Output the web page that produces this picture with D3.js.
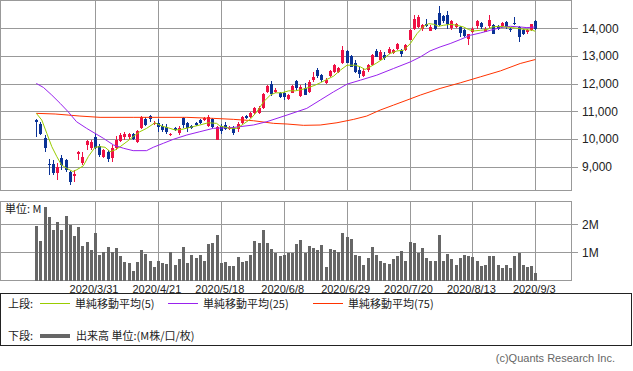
<!DOCTYPE html>
<html>
<head>
<meta charset="utf-8">
<script src="https://cdn.jsdelivr.net/npm/d3@7"></script>
<style>
    body { margin: 0; background: #fff; }
    svg { display: block; font-family: "Liberation Sans", "Noto Sans CJK JP", sans-serif; }
    .jp { font-family: "Noto Sans CJK JP", sans-serif; }
</style>
</head>
<body>
<svg id="chart" width="633" height="371"></svg>
<script>
// trading days 2020/3/10 .. 2020/9/3
var dates = [
    "3/10", "3/11", "3/12", "3/13", "3/16", "3/17", "3/18", "3/19", "3/23", "3/24", "3/25", "3/26", "3/27", "3/30", "3/31",
    "4/1", "4/2", "4/3", "4/6", "4/7", "4/8", "4/9", "4/10", "4/13", "4/14", "4/15", "4/16", "4/17", "4/20", "4/21",
    "4/22", "4/23", "4/24", "4/27", "4/28", "4/30", "5/1", "5/7", "5/8", "5/11", "5/12", "5/13", "5/14", "5/15", "5/18",
    "5/19", "5/20", "5/21", "5/22", "5/25", "5/26", "5/27", "5/28", "5/29", "6/1", "6/2", "6/3", "6/4", "6/5", "6/8",
    "6/9", "6/10", "6/11", "6/12", "6/15", "6/16", "6/17", "6/18", "6/19", "6/22", "6/23", "6/24", "6/25", "6/26", "6/29",
    "6/30", "7/1", "7/2", "7/3", "7/6", "7/7", "7/8", "7/9", "7/10", "7/13", "7/14", "7/15", "7/16", "7/17", "7/20",
    "7/21", "7/22", "7/27", "7/28", "7/29", "7/30", "7/31", "8/3", "8/4", "8/5", "8/6", "8/7", "8/11", "8/12", "8/13",
    "8/14", "8/17", "8/18", "8/19", "8/20", "8/21", "8/24", "8/25", "8/26", "8/27", "8/28", "8/31", "9/1", "9/2", "9/3"
];

var open = [
    10690, 10560, 10030, 9100, 9100, 8770, 9300, 9240, 8800, 8660, 9480, 9130, 9790, 9670, 10090,
    9760, 9370, 9550, 9330, 9680, 9940, 10070, 10060, 10200, 9910, 10390, 10710, 10850, 10550, 10590,
    10470, 10450, 10150, 10390, 10210, 10770, 10570, 10470, 10570, 10690, 10690, 10470, 10710, 9970, 10470,
    10500, 10360, 10410, 10360, 10570, 10830, 10790, 10950, 10950, 11110, 11710, 11980, 11710, 11650, 11650,
    11430, 11670, 12090, 11550, 11830, 11710, 12130, 12490, 12320, 12030, 12270, 12430, 12440, 12730, 13180,
    12990, 12730, 12510, 12270, 12490, 12670, 13180, 12870, 13030, 13110, 13110, 13270, 13210, 13210, 13590,
    13990, 14050, 13990, 14170, 13900, 14290, 14550, 14430, 14470, 14020, 14050, 14050, 13950, 13630, 13870,
    14070, 14190, 13870, 14070, 14110, 14070, 14070, 14230, 13990, 14190, 14050, 13930, 13870, 13950, 14260
];
var high = [
    10720, 10620, 10160, 9290, 9250, 9130, 9420, 9290, 8850, 8880, 9560, 9550, 9970, 9970, 10210,
    9810, 9650, 9610, 9790, 10120, 10220, 10240, 10230, 10230, 10330, 10820, 10780, 10880, 10640, 10710,
    10540, 10540, 10220, 10430, 10470, 10800, 10630, 10520, 10600, 10740, 10800, 10860, 10760, 10470, 10560,
    10610, 10460, 10470, 10620, 10850, 10870, 10980, 11160, 11200, 11650, 11950, 12100, 11830, 11710, 11710,
    11630, 11950, 12130, 11950, 12010, 12130, 12430, 12560, 12360, 12190, 12510, 12700, 12610, 13350, 13210,
    13030, 12850, 12610, 12550, 12700, 13060, 13270, 13210, 13150, 13330, 13270, 13470, 13270, 13450, 13990,
    14470, 14470, 14170, 14350, 14110, 14310, 14790, 14470, 14610, 14310, 14190, 14070, 13990, 13810, 14030,
    14290, 14230, 14030, 14470, 14150, 14110, 14230, 14270, 14050, 14410, 14070, 13990, 13990, 14170, 14290
];
var low = [
    10080, 10150, 9550, 8700, 8710, 8530, 8900, 8810, 8350, 8450, 9250, 9070, 9610, 9610, 9640,
    9370, 9310, 9190, 9170, 9620, 9900, 9950, 9990, 9960, 9850, 10350, 10480, 10600, 10500, 10270,
    10260, 10200, 10120, 10290, 10150, 10400, 10270, 10350, 10480, 10550, 10650, 10420, 10400, 9960, 10200,
    10320, 10330, 10160, 10250, 10540, 10720, 10760, 10920, 10910, 11070, 11670, 11560, 11670, 11470, 11410,
    11410, 11650, 11790, 11510, 11590, 11650, 12070, 12220, 12070, 11980, 12230, 12390, 12390, 12700, 12730,
    12590, 12390, 12190, 12250, 12430, 12630, 12950, 12850, 12870, 13080, 13080, 13210, 12950, 13180, 13570,
    13950, 14020, 13900, 14050, 13900, 13950, 14070, 14190, 13990, 13950, 14020, 13690, 13670, 13390, 13830,
    13990, 13990, 13850, 14020, 13790, 13950, 14050, 13990, 13870, 14110, 13510, 13750, 13810, 13900, 13950
];
var close = [
    10620, 10200, 9680, 9050, 8770, 9010, 9080, 8880, 8440, 8730, 9520, 9370, 9930, 9910, 9690,
    9430, 9610, 9280, 9670, 9960, 10150, 10180, 10200, 9990, 10290, 10810, 10510, 10720, 10590, 10450,
    10330, 10270, 10190, 10330, 10410, 10510, 10390, 10390, 10510, 10590, 10750, 10790, 10450, 10450, 10300,
    10360, 10410, 10230, 10530, 10780, 10750, 10930, 11110, 11130, 11620, 11910, 11620, 11790, 11510, 11510,
    11590, 11910, 11830, 11870, 11590, 12070, 12250, 12270, 12150, 12140, 12460, 12660, 12560, 13210, 12750,
    12610, 12430, 12340, 12460, 12670, 13030, 12970, 13150, 12910, 13270, 13230, 13420, 13060, 13390, 13930,
    14350, 14390, 14110, 14070, 14050, 13990, 14110, 14260, 14140, 14260, 14140, 13830, 13710, 13780, 13990,
    14260, 14030, 13990, 14310, 13810, 13990, 14190, 14050, 13930, 14140, 13690, 13810, 13930, 14140, 13990
];

// volume, millions
var volume = [
    1.94, 1.39, 2.62, 2.26, 1.79, 2.07, 1.79, 2.29, 1.99, 1.58, 1.90, 1.21, 1.36, 1.07, 1.69,
    0.89, 1.01, 1.19, 1.01, 1.14, 0.86, 0.65, 0.62, 0.33, 0.65, 1.07, 0.93, 0.68, 0.48, 0.68,
    0.62, 0.57, 1.00, 0.54, 0.75, 1.19, 0.62, 0.89, 0.81, 0.89, 0.71, 1.29, 1.33, 1.61, 0.62,
    0.65, 0.50, 0.50, 0.83, 0.65, 0.71, 0.89, 1.39, 1.33, 1.79, 1.33, 1.12, 0.98, 0.87, 0.89,
    0.98, 0.98, 1.29, 1.43, 0.98, 1.21, 1.15, 1.07, 1.25, 0.48, 1.13, 1.10, 1.00, 1.69, 1.55,
    1.46, 0.89, 0.86, 0.54, 0.79, 1.18, 0.89, 0.68, 0.62, 0.60, 0.75, 0.86, 1.04, 0.68, 1.36,
    1.33, 0.99, 1.14, 0.79, 0.69, 0.71, 1.61, 0.71, 0.93, 0.75, 0.54, 0.81, 0.89, 0.86, 0.83,
    0.71, 0.51, 0.54, 0.86, 0.86, 0.54, 0.44, 0.54, 0.44, 0.86, 0.98, 0.54, 0.48, 0.50, 0.26
];

// moving averages: [day index, price]
var ma5 = [
    [0, 10930], [1.3, 10690], [2.5, 10210], [3.7, 9727], [4.9, 9367], [6, 9068], [7.2, 8950], [8.7, 8830],
    [9.6, 8890], [11.2, 9032], [12.4, 9367], [14, 9705], [15.2, 9727], [16.4, 9705], [17.6, 9547], [18.8, 9608],
    [20, 9727], [21.6, 9908], [23.1, 10088], [24.7, 10267], [26.3, 10388], [28.3, 10590], [29.9, 10472],
    [31.9, 10388], [33.1, 10328], [34.7, 10352], [36.7, 10424], [39, 10508], [41, 10590], [43, 10568],
    [43.8, 10472], [46.2, 10388], [47.8, 10388], [49.4, 10544], [51, 10713], [52.6, 10987], [54.2, 11347],
    [55.8, 11588], [57, 11671], [58.6, 11671], [60.2, 11743], [61.8, 11743], [63.4, 11793], [65, 11865],
    [66.5, 11948], [67.7, 12031], [69.3, 12153], [70.9, 12272], [72.5, 12488], [74.1, 12668], [76.1, 12668],
    [77.3, 12607], [78.4, 12513], [79.6, 12607], [81.2, 12751], [82.8, 12909], [84.4, 13089], [86, 13183],
    [87.6, 13208], [89.2, 13449], [90.8, 13809], [92.4, 14072], [93.6, 14168], [94.8, 14144], [95.9, 14072],
    [97.1, 14108], [98.7, 14144], [100.3, 14108], [101.9, 14048], [103.1, 13953], [104.3, 13903], [105.9, 13928],
    [107.5, 13953], [108.7, 14048], [110.3, 14072], [111.9, 14048], [113.5, 14024], [115.1, 13990], [116.7, 13953],
    [118.3, 13928], [119, 13892]
];
var ma25 = [
    [0, 12009], [1.7, 11865], [3.7, 11588], [5.7, 11289], [7.6, 10987], [9.6, 10627], [12, 10388], [14, 10208],
    [16, 10029], [18.4, 9788], [20.8, 9669], [23.1, 9583], [26.3, 9583], [27.9, 9705], [30.3, 9849], [32.7, 9993],
    [35.9, 10148], [39, 10267], [42.2, 10388], [47, 10420], [51.8, 10510], [55, 10630], [59.8, 10868],
    [64.5, 11109], [67.7, 11408], [70.9, 11707], [74.1, 11984], [77.3, 12128], [81.2, 12308], [85.2, 12549],
    [89.2, 12787], [91.6, 12967], [93.9, 13183], [96.3, 13327], [98.7, 13449], [101.1, 13593], [103.5, 13748],
    [105.9, 13831], [108.3, 13928], [110.7, 14024], [113.1, 14072], [115.4, 14048], [117, 14024], [119, 14048]
];
var ma75 = [
    [0, 10930], [4.5, 10906], [7.6, 10868], [10.4, 10832], [15.2, 10785], [23.1, 10785], [35.9, 10785],
    [42.2, 10749], [47, 10713], [51.8, 10663], [56.6, 10568], [59.8, 10544], [63.7, 10497], [67.7, 10508],
    [71.7, 10590], [75.7, 10713], [78.8, 10832], [82, 11048], [85.2, 11228], [88.4, 11408], [91.6, 11590],
    [96.3, 11829], [101.1, 12031], [105.9, 12247], [110.7, 12463], [115.4, 12729], [119, 12873]
];

var priceTicks = [9000, 10000, 11000, 12000, 13000, 14000];
var volumeTicks = [1, 2];
var labelDays = [14, 29, 44, 59, 74, 89, 104, 119];

var COLORS = {
    up: "#ee1144",
    down: "#0a3296",
    ma5: "#99cc00",
    ma25: "#9922ee",
    ma75: "#ff3300",
    volume: "#666666",
    grid: "#999999"
};

var svg = d3.select("#chart");

var plotLeft = 0.5, plotRight = 571.5;
var priceTop = 0.5, priceBottom = 190.5;
var volTop = 201.5, volBottom = 280.5;

var x = d3.scaleLinear().domain([0, 119]).range([36.3, 535.3]);
var y = d3.scaleLinear().domain([9000, 14000]).range([166.8, 28.3]);
var vy = d3.scaleLinear().domain([0, 2]).range([280.5, 224.3]);

var px = function (v) { return Math.round(v) + 0.5; };

// frames and grid
function panel(top, bottom, ticks, scale, fmt) {
    var g = svg.append("g").attr("shape-rendering", "crispEdges");
    g.selectAll("line.h")
        .data(ticks)
        .enter().append("line")
        .attr("x1", plotLeft).attr("x2", plotRight + 6)
        .attr("y1", function (d) { return px(scale(d)); })
        .attr("y2", function (d) { return px(scale(d)); })
        .attr("stroke", COLORS.grid);
    g.selectAll("line.v")
        .data(labelDays)
        .enter().append("line")
        .attr("x1", function (d) { return px(x(d)); })
        .attr("x2", function (d) { return px(x(d)); })
        .attr("y1", top).attr("y2", bottom)
        .attr("stroke", COLORS.grid);
    g.append("rect")
        .attr("x", plotLeft).attr("y", top)
        .attr("width", plotRight - plotLeft).attr("height", bottom - top)
        .attr("fill", "none").attr("stroke", COLORS.grid);
    svg.append("g").selectAll("text")
        .data(ticks)
        .enter().append("text")
        .attr("x", 582)
        .attr("y", function (d) { return scale(d); })
        .attr("dy", "0.35em")
        .attr("font-size", 12)
        .attr("fill", "#222")
        .text(fmt);
}

panel(priceTop, priceBottom, priceTicks, y, d3.format(","));
panel(volTop, volBottom, volumeTicks, vy, function (d) { return d + "M"; });

// candles
var idx = d3.range(dates.length);
var candles = svg.append("g").attr("shape-rendering", "crispEdges");
candles.selectAll("line")
    .data(idx)
    .enter().append("line")
    .attr("x1", function (i) { return px(x(i)); })
    .attr("x2", function (i) { return px(x(i)); })
    .attr("y1", function (i) { return y(high[i]); })
    .attr("y2", function (i) { return y(low[i]); })
    .attr("stroke", function (i) { return close[i] >= open[i] ? COLORS.up : COLORS.down; });
candles.selectAll("rect")
    .data(idx)
    .enter().append("rect")
    .attr("x", function (i) { return Math.round(x(i)) - 1; })
    .attr("width", 3)
    .attr("y", function (i) { return y(Math.max(open[i], close[i])); })
    .attr("height", function (i) { return Math.max(1, Math.abs(y(open[i]) - y(close[i]))); })
    .attr("fill", function (i) { return close[i] >= open[i] ? COLORS.up : COLORS.down; });

// moving averages
var maLine = d3.line()
    .x(function (d) { return x(d[0]); })
    .y(function (d) { return y(d[1]); });

[[ma75, COLORS.ma75], [ma25, COLORS.ma25], [ma5, COLORS.ma5]].forEach(function (m) {
    svg.append("path")
        .datum(m[0])
        .attr("d", maLine)
        .attr("fill", "none")
        .attr("stroke", m[1])
        .attr("stroke-width", 1);
});

// volume bars
svg.append("g").attr("shape-rendering", "crispEdges")
    .selectAll("rect")
    .data(idx)
    .enter().append("rect")
    .attr("x", function (i) { return Math.round(x(i)) - 1; })
    .attr("width", 3)
    .attr("y", function (i) { return vy(volume[i]); })
    .attr("height", function (i) { return vy(0) - vy(volume[i]); })
    .attr("fill", COLORS.volume);

svg.append("text")
    .attr("class", "jp")
    .attr("x", 5).attr("y", 213)
    .attr("font-size", 11)
    .attr("fill", "#222")
    .text("単位: M");

// date labels
svg.append("g").selectAll("text")
    .data(labelDays)
    .enter().append("text")
    .attr("x", function (d) { return x(d) - 1; })
    .attr("y", 293)
    .attr("text-anchor", "middle")
    .attr("font-size", 11)
    .attr("fill", "#222")
    .text(function (d) { return "2020/" + dates[d]; });

// legend
var legend = svg.append("g").attr("class", "jp").attr("font-size", 11).attr("fill", "#222");
legend.append("rect")
    .attr("x", 0.5).attr("y", 293.5).attr("width", 631).attr("height", 52)
    .attr("fill", "none").attr("stroke", "#222");

var legendItems = [
    { x: 40, color: COLORS.ma5, label: "単純移動平均(5)" },
    { x: 168, color: COLORS.ma25, label: "単純移動平均(25)" },
    { x: 313, color: COLORS.ma75, label: "単純移動平均(75)" }
];

legend.append("text").attr("x", 8).attr("y", 304).attr("dy", "0.35em").text("上段:");
legendItems.forEach(function (d) {
    legend.append("line")
        .attr("x1", d.x).attr("x2", d.x + 30)
        .attr("y1", 303.5).attr("y2", 303.5)
        .attr("stroke", d.color);
    legend.append("text")
        .attr("x", d.x + 35).attr("y", 304).attr("dy", "0.35em")
        .text(d.label);
});

legend.append("text").attr("x", 8).attr("y", 336).attr("dy", "0.35em").text("下段:");
legend.append("line")
    .attr("x1", 40).attr("x2", 70)
    .attr("y1", 336).attr("y2", 336)
    .attr("stroke", COLORS.volume).attr("stroke-width", 4);
legend.append("text").attr("x", 76).attr("y", 336).attr("dy", "0.35em").text("出来高 単位:(M株/口/枚)");

svg.append("text")
    .attr("x", 615).attr("y", 362)
    .attr("text-anchor", "end")
    .attr("font-size", 11)
    .attr("fill", "#666")
    .text("(c)Quants Research Inc.");
</script>
</body>
</html>
